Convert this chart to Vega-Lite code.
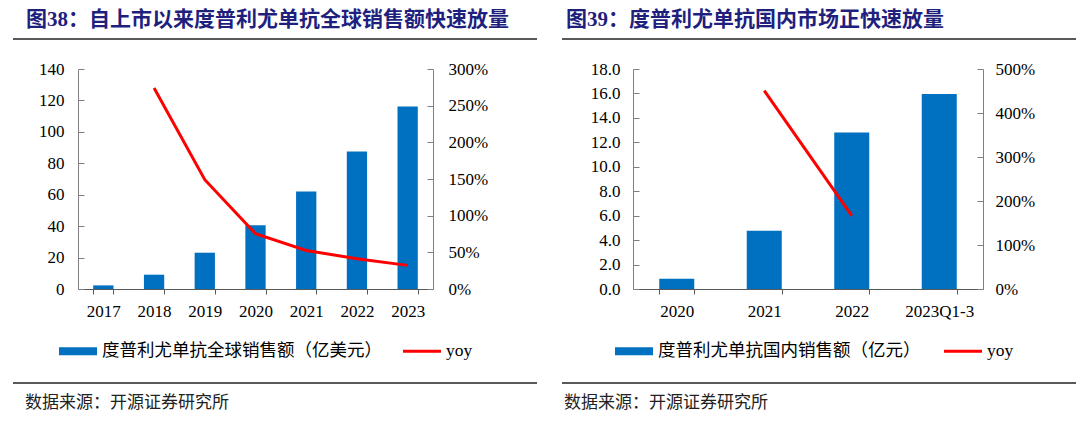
{
  "$schema": "https://vega.github.io/schema/vega-lite/v6.json",
  "padding": {"left": 12, "top": 9, "right": 5, "bottom": 5},
  "background": "white",
  "config": {
    "view": {"stroke": null},
    "axis": {"grid": false, "labelFont": "Liberation Serif", "labelFontSize": 17, "labelColor": "#000000", "domainColor": "#808080", "tickColor": "#808080"}
  },
  "spacing": 23,
  "resolve": {"scale": {"color": "independent"}, "legend": {"color": "independent"}},
  "hconcat": [
    {
      "spacing": 20,
      "resolve": {"scale": {"color": "independent"}, "legend": {"color": "independent"}},
      "vconcat": [
        {
          "width": 524, "height": 1,
          "data": {"values": [{}]},
          "title": {"text": "图38：自上市以来度普利尤单抗全球销售额快速放量", "anchor": "start", "frame": "group", "dx": 13, "offset": 8, "fontSize": 21, "font": "Liberation Serif, Noto Sans CJK SC", "fontWeight": "bold", "color": "#1F1F7E"},
          "mark": {"type": "rule", "stroke": "#595959", "strokeWidth": 2},
          "encoding": {"y": {"datum": 0, "type": "quantitative", "axis": null, "scale": {"domain": [0, 1]}}}
        },
        {
          "spacing": 22,
          "resolve": {"scale": {"color": "independent"}, "legend": {"color": "independent"}},
          "vconcat": [
            {
              "spacing": 0,
              "resolve": {"scale": {"color": "independent"}, "legend": {"color": "independent"}},
              "hconcat": [
                {"width": 1, "height": 1, "data": {"values": []}, "mark": "point"},
                {
                  "width": 355, "height": 220,
                  "data": {"values": [
                    {"year": "2017", "sales": 2.3, "yoy": null},
                    {"year": "2018", "sales": 9.1, "yoy": 2.74},
                    {"year": "2019", "sales": 23.1, "yoy": 1.49},
                    {"year": "2020", "sales": 40.5, "yoy": 0.753},
                    {"year": "2021", "sales": 62.1, "yoy": 0.526},
                    {"year": "2022", "sales": 87.5, "yoy": 0.413},
                    {"year": "2023", "sales": 116.1, "yoy": 0.322}
                  ]},
                  "layer": [
                    {
                      "mark": {"type": "bar"},
                      "encoding": {
                        "x": {"field": "year", "type": "ordinal", "scale": {"paddingInner": 0.6, "paddingOuter": 0.3},
                              "axis": {"title": null, "labelAngle": 0, "tickBand": "extent", "tickSize": 5, "labelPadding": 9, "domainColor": "#595959", "tickColor": "#595959"}},
                        "y": {"field": "sales", "type": "quantitative", "scale": {"domain": [0, 140]},
                              "axis": {"title": null, "orient": "left", "values": [0, 20, 40, 60, 80, 100, 120, 140], "tickSize": -6, "labelPadding": 20, "minExtent": 64}},
                        "color": {"datum": "度普利尤单抗全球销售额（亿美元）",
                                  "scale": {"domain": ["度普利尤单抗全球销售额（亿美元）", "yoy"], "range": ["#0070C0", "#FF0000"]},
                                  "legend": {"title": null, "orient": "none", "legendX": -19, "legendY": 263, "direction": "horizontal",
                                             "labelFont": "Liberation Serif, Noto Sans CJK SC", "labelFontSize": 17.5, "labelColor": "#000000", "labelLimit": 500,
                                             "symbolSize": 1444, "symbolStrokeWidth": 0, "labelOffset": 5, "columnPadding": 21, "padding": 0,
                                             "encode": {"symbols": {"update": {
                                               "shape": {"signal": "datum.label === 'yoy' ? 'M-1,-0.08H1V0.08H-1Z' : 'M-1,-0.21H1V0.21H-1Z'"},
                                               "fill": {"signal": "datum.label === 'yoy' ? '#FF0000' : '#0070C0'"},
                                               "opacity": {"value": 1}
                                             }}}}}
                      }
                    },
                    {
                      "mark": {"type": "line", "strokeWidth": 3},
                      "encoding": {
                        "x": {"field": "year", "type": "ordinal"},
                        "y": {"field": "yoy", "type": "quantitative", "scale": {"domain": [0, 3]},
                              "axis": {"title": null, "orient": "right", "values": [0, 0.5, 1, 1.5, 2, 2.5, 3], "format": ".0%", "tickSize": -6, "labelPadding": 21}},
                        "color": {"datum": "yoy"}
                      }
                    }
                  ],
                  "resolve": {"scale": {"y": "independent"}}
                }
              ]
            },
            {
              "width": 524, "height": 1,
              "data": {"values": [{}]},
              "title": {"text": "数据来源：开源证券研究所", "orient": "bottom", "anchor": "start", "frame": "group", "dx": 12, "offset": 11, "fontSize": 17, "font": "Noto Sans CJK SC", "fontWeight": "normal", "color": "#222222"},
              "mark": {"type": "rule", "stroke": "#595959", "strokeWidth": 2},
              "encoding": {"y": {"datum": 1, "type": "quantitative", "axis": null, "scale": {"domain": [0, 1]}}}
            }
          ]
        }
      ]
    },
    {
      "spacing": 20,
      "resolve": {"scale": {"color": "independent"}, "legend": {"color": "independent"}},
      "vconcat": [
        {
          "width": 514, "height": 1,
          "data": {"values": [{}]},
          "title": {"text": "图39：度普利尤单抗国内市场正快速放量", "anchor": "start", "frame": "group", "dx": 4, "offset": 8, "fontSize": 21, "font": "Liberation Serif, Noto Sans CJK SC", "fontWeight": "bold", "color": "#1F1F7E"},
          "mark": {"type": "rule", "stroke": "#595959", "strokeWidth": 2},
          "encoding": {"y": {"datum": 0, "type": "quantitative", "axis": null, "scale": {"domain": [0, 1]}}}
        },
        {
          "spacing": 22,
          "resolve": {"scale": {"color": "independent"}, "legend": {"color": "independent"}},
          "vconcat": [
            {
              "spacing": 0,
              "resolve": {"scale": {"color": "independent"}, "legend": {"color": "independent"}},
              "hconcat": [
                {"width": 1, "height": 1, "data": {"values": []}, "mark": "point"},
                {
                  "width": 350, "height": 220,
                  "data": {"values": [
                    {"year": "2020", "sales": 0.84, "yoy": null},
                    {"year": "2021", "sales": 4.77, "yoy": 4.51},
                    {"year": "2022", "sales": 12.8, "yoy": 1.67},
                    {"year": "2023Q1-3", "sales": 15.96, "yoy": null}
                  ]},
                  "layer": [
                    {
                      "mark": {"type": "bar"},
                      "encoding": {
                        "x": {"field": "year", "type": "ordinal", "scale": {"paddingInner": 0.6, "paddingOuter": 0.3},
                              "axis": {"title": null, "labelAngle": 0, "tickBand": "extent", "tickSize": 5, "labelPadding": 9, "domainColor": "#595959", "tickColor": "#595959"}},
                        "y": {"field": "sales", "type": "quantitative", "scale": {"domain": [0, 18]},
                              "axis": {"title": null, "orient": "left", "values": [0, 2, 4, 6, 8, 10, 12, 14, 16, 18], "format": ".1f", "tickSize": -6, "labelPadding": 19, "minExtent": 70}},
                        "color": {"datum": "度普利尤单抗国内销售额（亿元）",
                                  "scale": {"domain": ["度普利尤单抗国内销售额（亿元）", "yoy"], "range": ["#0070C0", "#FF0000"]},
                                  "legend": {"title": null, "orient": "none", "legendX": -18, "legendY": 263, "direction": "horizontal",
                                             "labelFont": "Liberation Serif, Noto Sans CJK SC", "labelFontSize": 17.5, "labelColor": "#000000", "labelLimit": 500,
                                             "symbolSize": 1444, "symbolStrokeWidth": 0, "labelOffset": 5, "columnPadding": 23, "padding": 0,
                                             "encode": {"symbols": {"update": {
                                               "shape": {"signal": "datum.label === 'yoy' ? 'M-1,-0.08H1V0.08H-1Z' : 'M-1,-0.21H1V0.21H-1Z'"},
                                               "fill": {"signal": "datum.label === 'yoy' ? '#FF0000' : '#0070C0'"},
                                               "opacity": {"value": 1}
                                             }}}}}
                      }
                    },
                    {
                      "mark": {"type": "line", "strokeWidth": 3},
                      "encoding": {
                        "x": {"field": "year", "type": "ordinal"},
                        "y": {"field": "yoy", "type": "quantitative", "scale": {"domain": [0, 5]},
                              "axis": {"title": null, "orient": "right", "values": [0, 1, 2, 3, 4, 5], "format": ".0%", "tickSize": -6, "labelPadding": 18}},
                        "color": {"datum": "yoy"}
                      }
                    }
                  ],
                  "resolve": {"scale": {"y": "independent"}}
                }
              ]
            },
            {
              "width": 514, "height": 1,
              "data": {"values": [{}]},
              "title": {"text": "数据来源：开源证券研究所", "orient": "bottom", "anchor": "start", "frame": "group", "dx": 2, "offset": 11, "fontSize": 17, "font": "Noto Sans CJK SC", "fontWeight": "normal", "color": "#222222"},
              "mark": {"type": "rule", "stroke": "#595959", "strokeWidth": 2},
              "encoding": {"y": {"datum": 1, "type": "quantitative", "axis": null, "scale": {"domain": [0, 1]}}}
            }
          ]
        }
      ]
    }
  ]
}
